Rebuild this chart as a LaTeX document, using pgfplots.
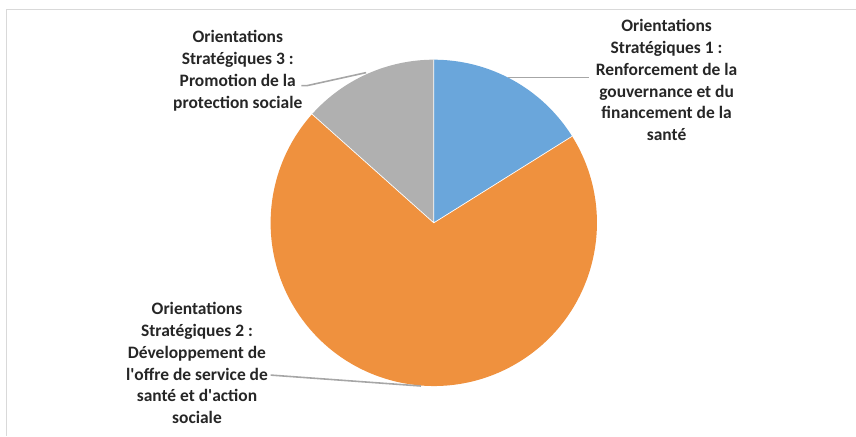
\documentclass[border=0pt]{standalone}
\usepackage{pgfplots}
\pgfplotsset{compat=1.18}
\usepackage{pgfplotstable}
\usepackage{fontspec}
\setmainfont{Carlito}

\definecolor{osblue}{HTML}{6AA6DB}
\definecolor{osorange}{HTML}{EF913E}
\definecolor{osgrey}{HTML}{B0B0B0}
\definecolor{leader}{HTML}{A6A6A6}
\definecolor{txt}{HTML}{262626}

\tikzset{lab/.style={align=center, text=txt,
    font=\bfseries\fontsize{17.6}{22}\selectfont}}

% parts of the budget, in per cent, clockwise from 12 o'clock
\pgfplotstableread{
share
16.1
70.5
13.4
}\sharetable

\begin{document}
\begin{tikzpicture}
\pgfplotstablegetelem{0}{share}\of\sharetable \let\sA\pgfplotsretval
\pgfplotstablegetelem{1}{share}\of\sharetable \let\sB\pgfplotsretval
\pgfplotstablegetelem{2}{share}\of\sharetable \let\sC\pgfplotsretval
\pgfmathsetmacro\aA{90}
\pgfmathsetmacro\aB{\aA-3.6*\sA}
\pgfmathsetmacro\aC{\aB-3.6*\sB}
\pgfmathsetmacro\aD{\aC-3.6*\sC}
\begin{axis}[
    width=856bp, height=436bp, scale only axis,
    xmin=0, xmax=856, ymin=0, ymax=436,
    hide axis, clip=false,
]
\path (axis cs:0,0) rectangle (axis cs:856,436);
% chart area frame
\draw[black!15, line width=0.8pt] (axis cs:6.5,-2) -- (axis cs:6.5,426.5) -- (axis cs:860,426.5);

\fill[osblue] (axis cs:436,212) -- ++(\aA:164bp) arc[start angle=\aA, end angle=\aB, radius=164bp] -- cycle;
\fill[osorange] (axis cs:436,212) -- ++(\aB:164bp) arc[start angle=\aB, end angle=\aC, radius=164bp] -- cycle;
\fill[osgrey] (axis cs:436,212) -- ++(\aC:164bp) arc[start angle=\aC, end angle=\aD, radius=164bp] -- cycle;
\draw[white, line width=0.7pt] (axis cs:436,212) -- ++(\aA:164bp)
    (axis cs:436,212) -- ++(\aB:164bp)
    (axis cs:436,212) -- ++(\aC:164bp);

% leader lines
\draw[leader, line width=1.6pt] (axis cs:511,358) -- (axis cs:592,358);
\draw[leader, line width=1.6pt] (axis cs:368,363) -- (axis cs:309,350) -- (axis cs:303,350);
\draw[leader, line width=1.6pt] (axis cs:423,48) -- (axis cs:272,59);

\node[lab] at (axis cs:670,355.5) {Orientations\\Stratégiques 1 :\\Renforcement de la\\gouvernance et du\\financement de la\\santé};
\node[lab] at (axis cs:239,364.7) {Orientations\\Stratégiques 3 :\\Promotion de la\\protection sociale};
\node[lab] at (axis cs:198,71) {Orientations\\Stratégiques 2 :\\Développement de\\l\textquotesingle offre de service de\\santé et d\textquotesingle action\\sociale};
\end{axis}
\end{tikzpicture}
\end{document}
